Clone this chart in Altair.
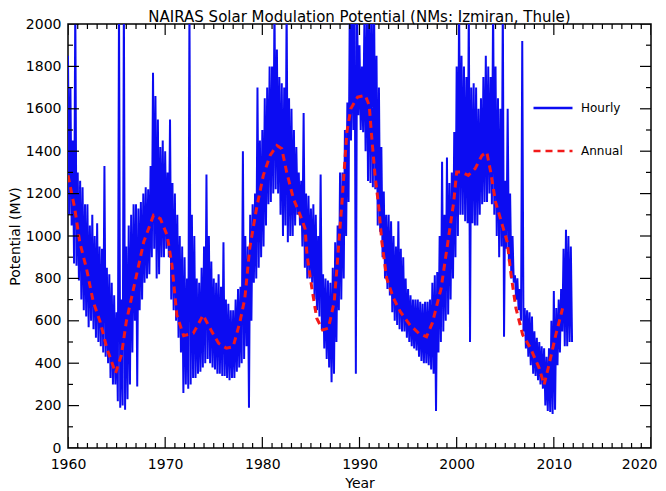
import altair as alt
import pandas as pd

title_text = "NAIRAS Solar Modulation Potential (NMs: Izmiran, Thule)"
x_title = "Year"
y_title = "Potential (MV)"
series_names = ["Hourly", "Annual"]
series_colors = ["#0c0cf2", "#f21a1a"]

first_year = 1960  # hourly envelope, one upper and one lower value per quarter year
hourly_hi = [
    1850, 1700, 1450, 2100,  1300, 1260, 1230, 1150,  1150, 1050, 1100, 1000,
    1060, 950, 940, 1330,    850, 820, 780, 720,      640, 2100, 700, 2100,
    950, 1050, 1100, 1150,   1150, 1130, 1160, 1200,  1230, 1220, 1330, 1770,
    1660, 1550, 1420, 1450,  1400, 1300, 1550, 1250,  1200, 1100, 1000, 950,
    900, 800, 2100, 1100,    1000, 800, 780, 850,     950, 1290, 1000, 880,
    800, 780, 820, 760,      970, 700, 680, 650,      650, 700, 750, 760,
    1400, 1000, 950, 1100,   1150, 1200, 1700, 1450,  1500, 1650, 1700, 1800,
    1800, 2100, 1880, 1750,  1720, 1700, 2100, 1650,  1600, 1500, 1420, 1300,
    1260, 1580, 1200, 1190,  1130, 1150, 1100, 1000,  1290, 820, 800, 790,
    780, 850, 970, 1050,     1300, 1300, 1500, 1630,  2100, 2100, 2100, 2100,
    1900, 1800, 2000, 2100,  2100, 2100, 2100, 1850,  1700, 1420, 1210, 1100,
    1100, 1070, 1000, 950,   1070, 940, 900, 800,     750, 720, 700, 700,
    700, 690, 680, 690,      690, 700, 780, 815,      830, 1000, 1350, 1100,
    1370, 1250, 1300, 1490,  1800, 2100, 1850, 1800,  1750, 2100, 1700, 1720,
    1700, 1600, 1650, 1750,  1850, 1800, 1750, 2100,  1800, 1650, 1600, 2100,
    1260, 1600, 1200, 1000,  815, 800, 750, 1920,     660, 650, 640, 620,
    550, 520, 500, 480,      470, 430, 470, 600,      740, 660, 700, 750,
    940, 1030, 1000, 950,
]
hourly_lo = [
    1100, 1050, 870, 860,    790, 700, 650, 620,      570, 600, 560, 520,
    500, 480, 450, 430,      400, 330, 300, 300,      220, 190, 200, 180,
    230, 300, 450, 600,      290, 650, 700, 780,      800, 820, 900, 940,
    800, 820, 900, 900,      940, 900, 700, 650,      600, 520, 450, 260,
    300, 280, 300, 330,      330, 350, 360, 380,      400, 420, 400, 380,
    370, 350, 350, 340,      340, 330, 320, 330,      330, 360, 380, 400,
    420, 480, 190, 600,      780, 800, 850, 900,      950, 1050, 1150, 1160,
    1200, 1220, 1200, 1100,  1000, 1050, 970, 1000,   1000, 1050, 1100, 1050,
    950, 850, 800, 800,      780, 700, 650, 620,      560, 470, 420, 380,
    310, 350, 500, 650,      700, 800, 1000, 1160,    1450, 1500, 350, 1570,
    1500, 1490, 1400, 1260,  1250, 1230, 1220, 1050,  1020, 900, 800, 750,
    720, 640, 600, 580,      560, 550, 550, 520,      500, 480, 470, 460,
    430, 410, 400, 400,      390, 370, 350, 175,      450, 500, 550, 600,
    630, 700, 800, 900,      1000, 1100, 1100, 1070,  1060, 500, 1060, 1050,
    1050, 1100, 1150, 1160,  1160, 1200, 1150, 1100,  1000, 900, 950, 525,
    940, 880, 800, 780,      700, 650, 600, 550,      470, 430, 390, 350,
    340, 320, 300, 280,      200, 175, 170, 160,      180, 390, 450, 550,
    480, 480, 500, 500,
]

annual_years = [
    1960.0, 1960.7, 1961.2, 1961.9, 1962.6, 1963.3, 1964.0, 1964.9, 1965.5, 1966.0,
    1966.9, 1967.8, 1968.8, 1969.5, 1970.2, 1970.7, 1971.2, 1971.9, 1972.9, 1973.9,
    1974.8, 1975.5, 1976.3, 1977.0, 1977.7, 1978.2, 1978.7, 1979.4, 1980.1, 1980.8,
    1981.5, 1982.0, 1982.5, 1983.2, 1983.9, 1984.4, 1984.6, 1985.1, 1985.6, 1986.2,
    1986.8, 1987.4, 1987.7, 1988.2, 1988.7, 1989.1, 1989.8, 1990.6, 1991.0, 1991.3,
    1991.6, 1992.0, 1992.3, 1992.8, 1993.5, 1994.2, 1995.2, 1996.1, 1996.9, 1997.5,
    1998.4, 1999.1, 1999.7, 2000.0, 2000.5, 2001.2, 2001.9, 2002.6, 2003.1, 2003.5,
    2004.0, 2004.7, 2005.2, 2005.6, 2006.1, 2006.8, 2007.6, 2008.5, 2009.0, 2009.5,
    2010.2, 2010.9,
]
annual_values = [
    1286, 1129, 973, 847, 690, 596, 471, 353, 439, 596,
    784, 973, 1098, 1082, 1004, 863, 627, 530, 541, 627,
    549, 494, 471, 478, 596, 706, 941, 1129, 1286, 1380,
    1427, 1412, 1302, 1176, 1098, 1035, 910, 753, 612, 557,
    565, 690, 863, 1161, 1490, 1600, 1655, 1663, 1616, 1443,
    1286, 1129, 973, 800, 706, 643, 580, 541, 525, 590,
    753, 973, 1161, 1302, 1302, 1286, 1318, 1380, 1396, 1302,
    1161, 1051, 973, 816, 659, 533, 471, 376, 298, 392,
    533, 659,
]

x_domain = [1960, 2020]
y_domain = [0, 2000]
x_major = list(range(1960, 2021, 10))
x_minor = [v for v in range(1960, 2021) if v % 10 != 0]
y_major = list(range(0, 2001, 200))
y_minor = list(range(100, 2000, 200))
major_len, minor_len = 22, 10   # centred on the frame and half clipped away

FONT = "DejaVu Sans"

rows = []
for i, (hi, lo) in enumerate(zip(hourly_hi, hourly_lo)):
    t = first_year + i * 0.25
    rows.append({"year": t, "value": hi, "series": series_names[0]})
    rows.append({"year": t + 0.125, "value": lo, "series": series_names[0]})
hourly_df = pd.DataFrame(rows)
annual_df = pd.DataFrame({"year": annual_years, "value": annual_values,
                          "series": series_names[1]})

xt = ([{"year": v, "value": y_domain[0], "len": major_len} for v in x_major] +
      [{"year": v, "value": y_domain[0], "len": minor_len} for v in x_minor] +
      [{"year": v, "value": y_domain[1], "len": major_len} for v in x_major] +
      [{"year": v, "value": y_domain[1], "len": minor_len} for v in x_minor])
yt = ([{"year": x_domain[0], "value": v, "len": major_len} for v in y_major] +
      [{"year": x_domain[0], "value": v, "len": minor_len} for v in y_minor] +
      [{"year": x_domain[1], "value": v, "len": major_len} for v in y_major] +
      [{"year": x_domain[1], "value": v, "len": minor_len} for v in y_minor])
xt_df = pd.DataFrame(xt)
yt_df = pd.DataFrame(yt)

legend = alt.Legend(title=None, orient="none", legendX=464, legendY=63,
                    symbolType="stroke", symbolSize=1521, symbolStrokeWidth=2.5,
                    labelFontSize=12, labelFont=FONT, labelColor="black",
                    labelOffset=7, rowPadding=16, padding=0)
color_enc = alt.Color("series:N", scale=alt.Scale(domain=series_names, range=series_colors),
                      legend=legend)
dash_enc = alt.StrokeDash("series:N", scale=alt.Scale(domain=series_names,
                                                      range=[[1, 0], [7, 5]]),
                          legend=legend)

last_test = "datum.value === 2020"
x_main = alt.X("year:Q", scale=alt.Scale(domain=x_domain, nice=False, zero=False),
               axis=alt.Axis(values=x_major, ticks=False, format="d", labelPadding=9,
                             labelFlush=False, domain=False, grid=False,
                             labelAlign={"condition": {"test": last_test, "value": "right"},
                                         "value": "center"},
                             labelOffset={"condition": {"test": last_test, "value": 6},
                                          "value": 0},
                             labelColor="black", labelFontSize=14, labelFont=FONT,
                             title=x_title, titleFontSize=14, titleFont=FONT,
                             titleFontWeight="normal", titleColor="black",
                             titlePadding=5))
y_main = alt.Y("value:Q", scale=alt.Scale(domain=y_domain, nice=False, zero=True),
               axis=alt.Axis(values=y_major, ticks=False, format="d", labelPadding=7,
                             labelFlush=False, domain=False, grid=False,
                             labelColor="black", labelFontSize=14, labelFont=FONT,
                             title=y_title, titleFontSize=14, titleFont=FONT,
                             titleFontWeight="normal", titleColor="black",
                             titlePadding=3))

hourly = alt.Chart(hourly_df).mark_line(strokeWidth=2.0, clip=True).encode(
    x=x_main, y=y_main, color=color_enc, strokeDash=dash_enc)
annual = alt.Chart(annual_df).mark_line(strokeWidth=3, clip=True).encode(
    x=x_main, y=y_main, color=color_enc, strokeDash=dash_enc)

x_ticks = alt.Chart(xt_df).mark_tick(orient="vertical", color="black", thickness=1.2,
                                     clip=True, opacity=1).encode(
    x=x_main, y=y_main, size=alt.Size("len:Q", scale=None, legend=None))
y_ticks = alt.Chart(yt_df).mark_tick(orient="horizontal", color="black", thickness=1.2,
                                     clip=True, opacity=1).encode(
    x=x_main, y=y_main, size=alt.Size("len:Q", scale=None, legend=None))

chart = alt.layer(hourly, annual, x_ticks, y_ticks).properties(
    width=583, height=424,
    title=alt.TitleParams(title_text, fontSize=15, font=FONT, fontWeight="normal",
                          color="black", anchor="middle", offset=-8),
    autosize=alt.AutoSizeParams(type="none"),
    padding={"left": 60, "top": 16, "right": 7, "bottom": 43},
).configure(background="white").configure_view(stroke="black", strokeWidth=1.5)

chart.save("out.html", embed_options={"renderer": "svg", "actions": False})
